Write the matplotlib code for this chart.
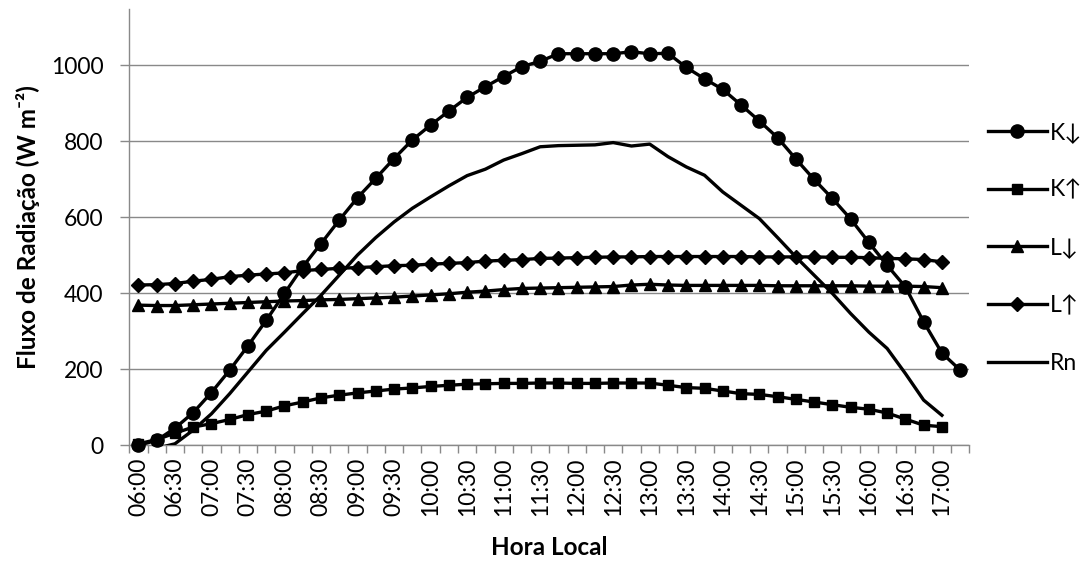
import numpy as np
import matplotlib
matplotlib.use('Agg')
import matplotlib.pyplot as plt

# horarios de 15 em 15 min, 06:00 ate 17:15
hora = ['%02d:%02d' % (6 + (15 * i) // 60, (15 * i) % 60) for i in range(46)]

k_down = [0, 13, 45, 86, 139, 198, 262, 329, 400, 470, 531, 593, 652, 703, 755, 804,
          843, 880, 916, 944, 971, 997, 1011, 1031, 1031, 1031, 1031, 1036, 1031, 1032,
          995, 965, 937, 896, 854, 810, 754, 700, 650, 596, 534, 474, 417, 325, 243, 198]
k_up = [4, 15, 32, 48, 57, 68, 81, 90, 104, 114, 125, 132, 138, 143, 148, 151,
        155, 158, 161, 162, 163, 163, 164, 164, 163, 163, 164, 164, 164, 158,
        152, 150, 143, 136, 134, 128, 121, 114, 107, 100, 95, 85, 69, 53, 49]
l_down = [369, 368, 368, 370, 372, 374, 376, 378, 380, 381, 383, 384, 386, 388, 390, 393,
          396, 399, 403, 406, 410, 413, 414, 415, 416, 417, 418, 422, 424, 422,
          421, 421, 421, 421, 421, 420, 420, 420, 420, 420, 419, 419, 419, 418, 415]
l_up = [422, 423, 426, 432, 437, 444, 448, 451, 454, 460, 463, 466, 468, 470, 473, 474,
        477, 479, 481, 485, 487, 489, 492, 493, 494, 495, 496, 496, 497, 497,
        497, 497, 497, 497, 496, 496, 496, 496, 495, 495, 494, 492, 491, 489, 483]
rn = [-30, -8, 4, 40, 83, 136, 193, 250, 298, 347, 395, 448, 501, 547, 588, 624,
      654, 683, 710, 727, 751, 768, 786, 789, 790, 791, 797, 788, 793, 760,
      733, 711, 667, 632, 597, 547, 496, 448, 400, 347, 298, 255, 189, 119, 79]

plt.rcParams['font.family'] = ['Lato', 'DejaVu Sans']
plt.rcParams['font.size'] = 16.5

fig = plt.figure(figsize=(10.8, 5.76), dpi=100)
ax = fig.add_axes([0.1197, 0.2269, 0.7778, 0.757])

grid_c = '#898989'
lw = 2.4
ax.plot(range(len(k_down)), k_down, color='black', lw=lw, marker='o', ms=9.5, label='K↓', clip_on=False, zorder=3)
ax.plot(range(len(k_up)), k_up, color='black', lw=lw, marker='s', ms=7.5, label='K↑', clip_on=False, zorder=3)
ax.plot(range(len(l_down)), l_down, color='black', lw=lw, marker='^', ms=9, label='L↓', clip_on=False, zorder=3)
ax.plot(range(len(l_up)), l_up, color='black', lw=lw, marker='D', ms=7, label='L↑', clip_on=False, zorder=3)
ax.plot(range(len(rn)), rn, color='black', lw=lw, label='Rn', zorder=3)

ax.set_xlim(-0.5, 45.5)
ax.set_ylim(0, 1148)
ax.set_yticks(range(0, 1001, 200))
ax.yaxis.grid(True, color=grid_c, lw=1)
ax.set_axisbelow(True)

# marcas entre categorias, rotulos a cada 30 min
ax.set_xticks(np.arange(-0.5, 46, 1))
ax.set_xticklabels([])
ax.set_xticks(range(0, 46, 2), minor=True)
ax.set_xticklabels(hora[::2], minor=True, rotation=90)
ax.tick_params(axis='x', which='major', length=6, color=grid_c, width=1)
ax.tick_params(axis='x', which='minor', length=0, pad=9)
ax.tick_params(axis='y', length=6.5, color=grid_c, width=1, pad=12)

for s in ['top', 'right']:
    ax.spines[s].set_visible(False)
ax.spines['left'].set_color(grid_c)
ax.spines['bottom'].set_color(grid_c)
ax.spines['left'].set_linewidth(1)
ax.spines['bottom'].set_linewidth(1)

ax.set_ylabel('Fluxo de Radiação (W m⁻²)', fontweight='bold', fontsize=17.5, labelpad=8)
ax.set_xlabel('Hora Local', fontweight='bold', fontsize=17.5, labelpad=14)

ax.legend(loc='center left', bbox_to_anchor=(1.0, 0.453), frameon=False, labelspacing=1.6,
          handlelength=2.6, handletextpad=0.1, borderaxespad=0.4)

fig.savefig('out.png', dpi=100)
